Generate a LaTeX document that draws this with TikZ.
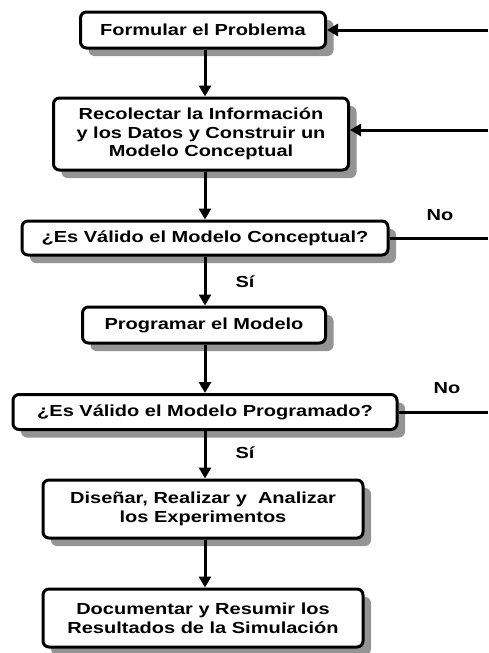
\documentclass[tikz,border=0pt]{standalone}
\usepackage{fontspec}
\setmainfont{Liberation Sans}[FakeStretch=1.25]
\usetikzlibrary{arrows.meta,shadows}
\begin{document}
\begin{tikzpicture}[x=0.5pt, y=-0.5pt,
  font=\fontsize{8}{9.3}\selectfont\bfseries,
  stepbox/.style={draw, line width=1.5pt, rounded corners=3pt, fill=white,
    align=center, inner sep=0pt,
    drop shadow={shadow xshift=4pt, shadow yshift=-4pt, fill=black!42, opacity=1}},
  flow/.style={line width=1.5pt, -{Triangle[width=6pt, length=5.5pt]}},
  back/.style={line width=1.5pt}]
\useasboundingbox (0,0) rectangle (488,653);
\node[stepbox, minimum width=122.5pt, minimum height=18pt] (formular) at (203,30) {Formular el Problema};
\node[stepbox, minimum width=147.5pt, minimum height=36pt] (recolectar) at (201,134) {Recolectar la Informaci\'on\\y los Datos y Construir un\\Modelo Conceptual};
\node[stepbox, minimum width=183pt, minimum height=17pt] (validoC) at (205,238) {¿Es V\'alido el Modelo Conceptual?};
\node[stepbox, minimum width=121.5pt, minimum height=18pt] (programar) at (204,325) {Programar el Modelo};
\node[stepbox, minimum width=192pt, minimum height=17.5pt] (validoP) at (205,412) {¿Es V\'alido el Modelo Programado?};
\node[stepbox, minimum width=160pt, minimum height=29pt] (disenar) at (203,509) {Dise\~nar, Realizar y~ Analizar\\los Experimentos};
\node[stepbox, minimum width=160pt, minimum height=29pt] (documentar) at (203,618) {Documentar y Resumir los\\Resultados de la Simulaci\'on};
% flujo principal
\draw[flow] (formular.south -| 205,0) -- (recolectar.north -| 205,0);
\draw[flow] (recolectar.south -| 205,0) -- (validoC.north -| 205,0);
\draw[flow] (validoC.south -| 205,0) -- (programar.north -| 205,0);
\draw[flow] (programar.south -| 205,0) -- (validoP.north -| 205,0);
\draw[flow] (validoP.south -| 205,0) -- (disenar.north -| 205,0);
\draw[flow] (disenar.south -| 205,0) -- (documentar.north -| 205,0);
\node (si1) at (245,282) {S\'i};
\node (si2) at (245,453) {S\'i};
% retornos
\coordinate (r1) at (488,30);
\coordinate (r2) at (488,130);
\coordinate (r3) at (488,238);
\coordinate (r4) at (488,412);
\draw[flow] (r1) -- (formular.east |- r1);
\draw[flow] (r2) -- (recolectar.east |- r2);
\draw[back] (validoC.east) -- (r3);
\draw[back] (validoP.east) -- (r4);
\node (no1) at (440,215) {No};
\node (no2) at (447,388) {No};
\end{tikzpicture}
\end{document}
